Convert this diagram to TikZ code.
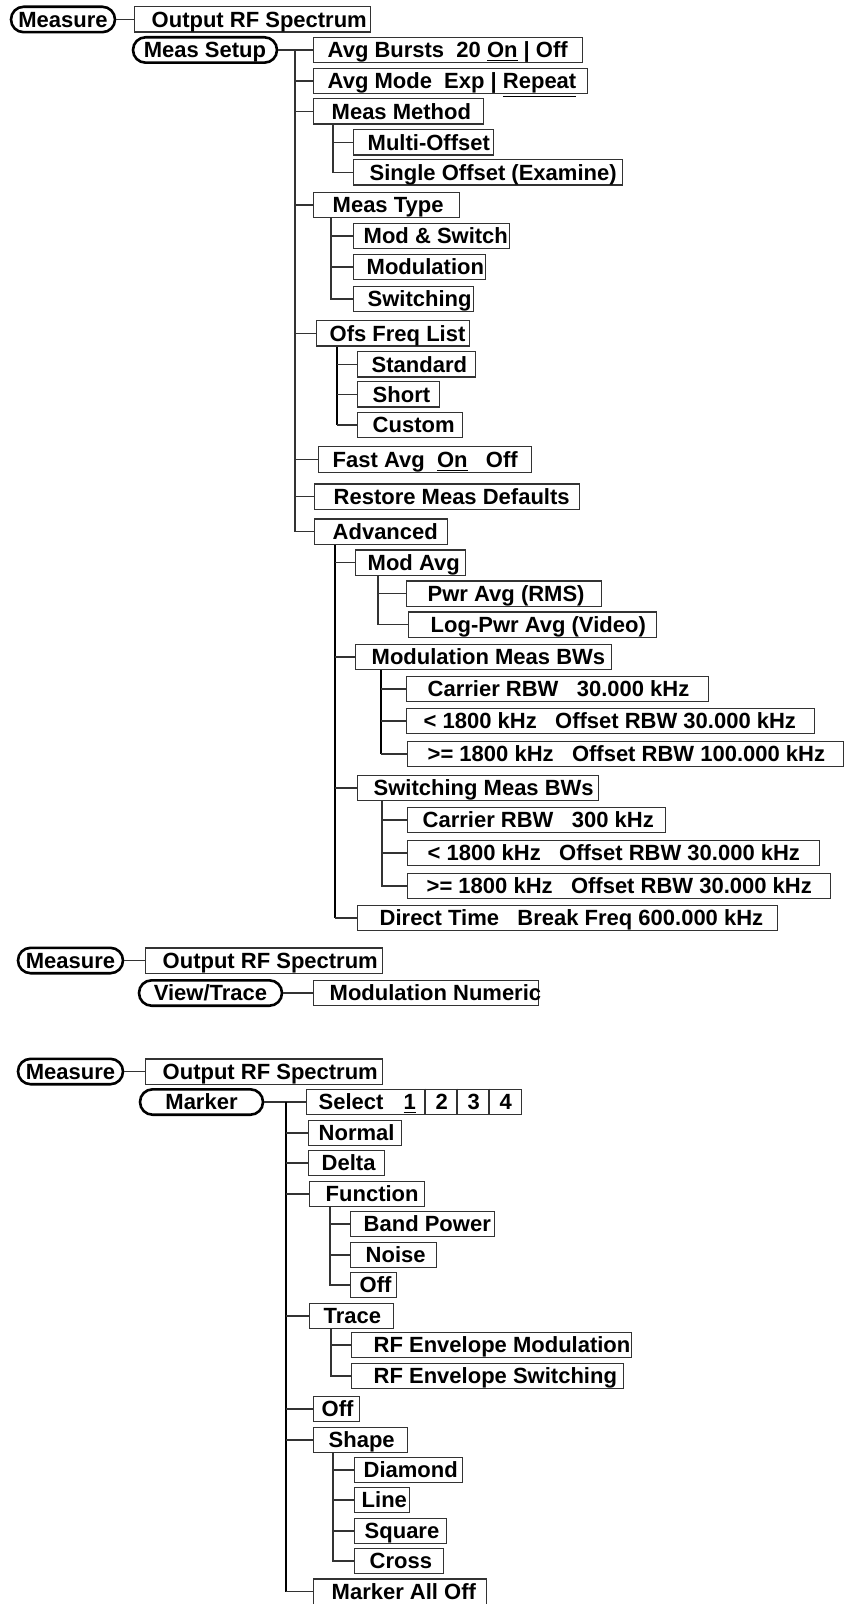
\documentclass[tikz,border=0pt]{standalone}
\usepackage{fontspec}
\setmainfont{Liberation Sans}

\newlength\px
\setlength\px{0.5pt}
% softkey label: box width and left gap in pixels
\newcommand{\keytext}[3][17]{\makebox[#2\px][l]{\hspace*{#1\px}#3}}

\begin{document}
\begin{tikzpicture}[
    x=0.5pt,
    y=-0.5pt,
    line cap=butt,
    every node/.style={font=\bfseries\fontsize{11}{13}\selectfont},
    key/.style={draw=black!80, line width=.7pt, anchor=west, inner sep=0pt,
        text height=10.2pt, text depth=2.5pt},
    hard/.style={draw, line width=1.3pt, rounded corners=6.3pt, inner sep=0pt,
        minimum height=12.7pt, text height=7.9pt, text depth=0pt},
    link/.style={black!80, line width=.7pt},
    trunk/.style={black, line width=1.3pt}
]

\useasboundingbox (0,0) rectangle (844,1604);

% Measure -> Output RF Spectrum -> Meas Setup
\node[hard, minimum width=52pt] (meas1) at (63,19.5) {Measure};
\node[key] (out1) at (134,19.5) {\keytext{236}{Output RF Spectrum}};
\node[hard, minimum width=72pt] (setup) at (205,50) {Meas Setup};

% Meas Setup menu
\node[key] (avgb)    at (313,50)    {\keytext[14]{269}{Avg Bursts\ \ 20 \underline{On} | Off}};
\node[key] (avgm)    at (313,81)    {\keytext[14]{274}{Avg Mode\ \ Exp | \underline{Repeat}}};
\node[key] (mmeth)   at (313,111.5) {\keytext[18]{170}{Meas Method}};
\node[key] (multi)   at (353,142.5) {\keytext[14]{140}{Multi-Offset}};
\node[key] (single)  at (353,172.5) {\keytext[16]{269}{Single Offset (Examine)}};
\node[key] (mtype)   at (313,205)   {\keytext[19]{146}{Meas Type}};
\node[key] (modsw)   at (353,236)   {\keytext[10]{156}{Mod \& Switch}};
\node[key] (modul)   at (353,267)   {\keytext[13]{132}{Modulation}};
\node[key] (switch)  at (353,299)   {\keytext[14]{120}{Switching}};
\node[key] (ofs)     at (316,333.5) {\keytext[13]{153}{Ofs Freq List}};
\node[key] (std)     at (357,364.5) {\keytext[14]{118}{Standard}};
\node[key] (short)   at (357,394.5) {\keytext[15]{82}{Short}};
\node[key] (custom)  at (357,425)   {\keytext[15]{105}{Custom}};
\node[key] (fast)    at (318,459.5) {\keytext[14]{213}{Fast Avg\ \ \underline{On}\ \ \ Off}};
\node[key] (restore) at (314,496.5) {\keytext[19]{265}{Restore Meas Defaults}};
\node[key] (adv)     at (314,531.5) {\keytext[18]{133}{Advanced}};

% Advanced menu
\node[key] (modavg)  at (355,562.5) {\keytext[12]{110}{Mod Avg}};
\node[key] (pwr)     at (406,593.5) {\keytext[21]{195}{Pwr Avg (RMS)}};
\node[key] (logpwr)  at (408,624.5) {\keytext[22]{248}{Log-Pwr Avg (Video)}};
\node[key] (modbw)   at (355,657)   {\keytext[16]{256}{Modulation Meas BWs}};
\node[key] (mcar)    at (406,689)   {\keytext[21]{302}{Carrier RBW\ \ \ 30.000 kHz}};
\node[key] (mlow)    at (406,721)   {\keytext[17]{408}{< 1800 kHz\ \ \ Offset RBW 30.000 kHz}};
\node[key] (mhigh)   at (407,754)   {\keytext[20]{436}{>= 1800 kHz\ \ \ Offset RBW 100.000 kHz}};
\node[key] (swbw)    at (357,788)   {\keytext[16]{241}{Switching Meas BWs}};
\node[key] (scar)    at (407,820)   {\keytext[15]{258}{Carrier RBW\ \ \ 300 kHz}};
\node[key] (slow)    at (407,853)   {\keytext[20]{412}{< 1800 kHz\ \ \ Offset RBW 30.000 kHz}};
\node[key] (shigh)   at (407,886)   {\keytext[19]{423}{>= 1800 kHz\ \ \ Offset RBW 30.000 kHz}};
\node[key] (direct)  at (357,918)   {\keytext[22]{420}{Direct Time\ \ \ Break Freq 600.000 kHz}};

% Links of the Meas Setup tree
\draw[link] (meas1.east) -- (out1.west);
\draw[link] (setup.east) -- (avgb.west);
\coordinate (t1) at (295,50);
\foreach \c in {avgm,mmeth,mtype,ofs,fast,restore,adv}
    \draw[link] (t1) |- (\c.west);
\foreach \c in {multi,single}
    \draw[link] ([xshift=10pt]mmeth.south west) |- (\c.west);
\foreach \c in {modsw,modul,switch}
    \draw[link] ([xshift=9pt]mtype.south west) |- (\c.west);
\draw[trunk] ([xshift=10.5pt]ofs.south west) -- ([xshift=10.5pt]ofs.south west |- custom.west);
\foreach \c in {std,short,custom}
    \draw[link] ([xshift=10.5pt]ofs.south west |- \c.west) -- (\c.west);
\draw[trunk] ([xshift=10.5pt]adv.south west) -- ([xshift=10.5pt]adv.south west |- direct.west);
\foreach \c in {modavg,modbw,swbw,direct}
    \draw[link] ([xshift=10.5pt]adv.south west |- \c.west) -- (\c.west);
\foreach \c in {pwr,logpwr}
    \draw[link] ([xshift=11.5pt]modavg.south west) |- (\c.west);
\draw[trunk] ([xshift=13pt]modbw.south west) -- ([xshift=13pt]modbw.south west |- mhigh.west);
\foreach \c in {mcar,mlow,mhigh}
    \draw[link] ([xshift=13pt]modbw.south west |- \c.west) -- (\c.west);
\foreach \c in {scar,slow,shigh}
    \draw[link] ([xshift=12.5pt]swbw.south west) |- (\c.west);

% Measure -> Output RF Spectrum -> View/Trace
\node[hard, minimum width=52.5pt] (meas2) at (70.5,960.5) {Measure};
\node[key] (out2) at (145,960.5) {\keytext{237}{Output RF Spectrum}};
\node[hard, minimum width=71.5pt] (view) at (210.5,993) {View/Trace};
\node[key] (modnum) at (313,993) {\keytext[16]{225}{Modulation Numeric}};

\draw[link] (meas2.east) -- (out2.west);
\draw[link] (view.east) -- (modnum.west);

% Measure -> Output RF Spectrum -> Marker
\node[hard, minimum width=52.5pt] (meas3) at (70.5,1071.5) {Measure};
\node[key] (out3) at (145,1071.5) {\keytext{237}{Output RF Spectrum}};
\node[hard, minimum width=61.5pt] (marker) at (201.5,1102) {Marker};

% Marker menu
\node[key] (select)  at (306,1102) {\makebox[215\px][l]{\hspace*{12\px}\makebox[75\px][l]{Select}%
    \makebox[32\px]{\underline{1}}\makebox[32\px]{2}\makebox[32\px]{3}\makebox[32\px]{4}}};
\node[key] (normal)  at (308,1133) {\keytext[10]{93}{Normal}};
\node[key] (delta)   at (308,1163) {\keytext[13]{76}{Delta}};
\node[key] (func)    at (309,1194) {\keytext[16]{115}{Function}};
\node[key] (band)    at (350,1224) {\keytext[13]{144}{Band Power}};
\node[key] (noise)   at (350,1255) {\keytext[15]{86}{Noise}};
\node[key] (foff)    at (350,1285) {\keytext[9]{46}{Off}};
\node[key] (trace)   at (309,1316) {\keytext[14]{84}{Trace}};
\node[key] (rfmod)   at (351,1345) {\keytext[22]{280}{RF Envelope Modulation}};
\node[key] (rfsw)    at (351,1376) {\keytext[22]{272}{RF Envelope Switching}};
\node[key] (off)     at (313,1409) {\keytext[8]{46}{Off}};
\node[key] (shape)   at (313,1440) {\keytext[15]{94}{Shape}};
\node[key] (diamond) at (354,1470) {\keytext[9]{108}{Diamond}};
\node[key] (line)    at (354,1500) {\keytext[7]{55}{Line}};
\node[key] (square)  at (354,1531) {\keytext[10]{92}{Square}};
\node[key] (cross)   at (354,1561) {\keytext[15]{89}{Cross}};
\node[key] (alloff)  at (313,1591.5) {\keytext[18]{173}{Marker All Off}};

% cells of Select 1 | 2 | 3 | 4
\foreach \d in {59.5,75.5,91.5}
    \draw[link] ([xshift=\d pt]select.north west) -- ([xshift=\d pt]select.south west);

% Links of the Marker tree
\draw[link] (meas3.east) -- (out3.west);
\draw[link] (marker.east) -- (select.west);
\coordinate (t3) at (286,1102);
\draw[trunk] (t3) -- (t3 |- alloff.west);
\foreach \c in {normal,delta,func,trace,off,shape,alloff}
    \draw[link] (t3 |- \c.west) -- (\c.west);
\foreach \c in {band,noise,foff}
    \draw[link] ([xshift=10.5pt]func.south west) |- (\c.west);
\foreach \c in {rfmod,rfsw}
    \draw[link] ([xshift=11pt]trace.south west) |- (\c.west);
\foreach \c in {diamond,line,square,cross}
    \draw[link] ([xshift=10pt]shape.south west) |- (\c.west);

\end{tikzpicture}
\end{document}
